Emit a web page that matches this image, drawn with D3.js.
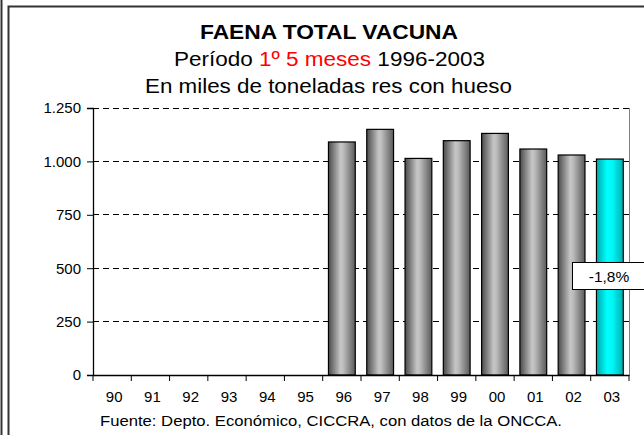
<!DOCTYPE html>
<html><head><meta charset="utf-8">
<script src="https://cdn.jsdelivr.net/npm/d3@7"></script>
<style>body{margin:0;background:#fff}svg{display:block;font-family:"Liberation Sans",Arial,sans-serif}</style>
</head><body>
<script>
const categories = ["90","91","92","93","94","95","96","97","98","99","00","01","02","03"];
const values = [null,null,null,null,null,null,1091,1150,1014,1097,1131,1058,1030,1011];
const yTicks = [0,250,500,750,1000,1250];
const yTickLabels = ["0","250","500","750","1.000","1.250"];
const highlight = "03";
const changeLabel = "-1,8%";

const W=644,H=435;
const svg=d3.select("body").append("svg").attr("width",W).attr("height",H);
const defs=svg.append("defs");
const g1=defs.append("linearGradient").attr("id","gGray").attr("x1","0").attr("x2","1").attr("y1","0").attr("y2","0");
[[0,"#4a4a4a"],[0.45,"#c6c6c6"],[0.55,"#bdbdbd"],[1,"#5a5a5a"]].forEach(s=>g1.append("stop").attr("offset",s[0]).attr("stop-color",s[1]));
const g2=defs.append("linearGradient").attr("id","gCyan").attr("x1","0").attr("x2","1").attr("y1","0").attr("y2","0");
[[0,"#00a8a8"],[0.4,"#00ffff"],[0.6,"#00f6f6"],[1,"#00b0b0"]].forEach(s=>g2.append("stop").attr("offset",s[0]).attr("stop-color",s[1]));

// frames
svg.append("line").attr("x1",1.5).attr("x2",1.5).attr("y1",0).attr("y2",H).attr("stroke","#333").attr("stroke-width",2);
svg.append("path").attr("d",`M8.5,${H}V6.5H${W}`).attr("fill","none").attr("stroke","#333").attr("stroke-width",2);

const L=93,R=629,T=108,B=375;
const x=d3.scaleBand().domain(categories).range([L,R]).paddingInner(0.3).paddingOuter(0.15);
const xt=d3.scaleBand().domain(categories).range([L,R]);
const y=d3.scaleLinear().domain([0,1250]).range([B,T]);

// grid
svg.append("g").selectAll("line").data(yTicks.filter(d=>d>0)).join("line")
 .attr("x1",L).attr("x2",R).attr("y1",d=>y(d)).attr("y2",d=>y(d))
 .attr("stroke","#000").attr("stroke-dasharray","6,4").attr("stroke-width",1).attr("shape-rendering","crispEdges");
// right border
svg.append("line").attr("x1",R).attr("x2",R).attr("y1",T).attr("y2",B).attr("stroke","#808080").attr("shape-rendering","crispEdges");

// bars
svg.append("g").selectAll("rect").data(categories.map((c,i)=>({c,v:values[i]})).filter(d=>d.v!=null)).join("rect")
 .attr("x",d=>x(d.c)).attr("width",x.bandwidth()).attr("y",d=>y(d.v)).attr("height",d=>B-y(d.v))
 .attr("fill",d=>d.c===highlight?"url(#gCyan)":"url(#gGray)").attr("stroke","#000").attr("stroke-width",1.2);

// y axis
const ya=svg.append("g").attr("transform",`translate(${L},0)`).call(d3.axisLeft(y).tickValues(yTicks).tickFormat((d,i)=>yTickLabels[i]).tickSize(6).tickPadding(6));
ya.select(".domain").attr("stroke","#000").attr("stroke-width",1.3);
ya.selectAll("line").attr("stroke","#000");
ya.selectAll("text").attr("font-size",15).attr("font-family","Liberation Sans, Arial, sans-serif").attr("fill","#000");

// x axis
const xa=svg.append("g").attr("transform",`translate(0,${B})`).call(d3.axisBottom(xt).tickSize(0).tickPadding(16));
xa.select(".domain").attr("stroke","#000").attr("stroke-width",1.3);
xa.selectAll("text").attr("font-size",15).attr("font-family","Liberation Sans, Arial, sans-serif").attr("fill","#000").attr("dx",2);
svg.append("g").selectAll("line").data(categories.concat(["_end"])).join("line")
 .attr("x1",(d,i)=>L+i*xt.step()).attr("x2",(d,i)=>L+i*xt.step()).attr("y1",B).attr("y2",B+6).attr("stroke","#000");

// label box
const lb=svg.append("g");
lb.append("rect").attr("x",572.5).attr("y",262.5).attr("width",80).attr("height",27).attr("fill","#fff").attr("stroke","#000");
lb.append("text").attr("x",609).attr("y",282).attr("text-anchor","middle").attr("font-size",15.5).text(changeLabel);

// titles
svg.append("text").attr("x",329).attr("y",39).attr("text-anchor","middle").attr("font-size",20).attr("font-weight","bold")
 .attr("textLength",258).attr("lengthAdjust","spacingAndGlyphs").text("FAENA TOTAL VACUNA");
const t2=svg.append("text").attr("x",329.5).attr("y",66).attr("text-anchor","middle").attr("font-size",20)
 .attr("textLength",311).attr("lengthAdjust","spacingAndGlyphs");
t2.append("tspan").text("Período ");
t2.append("tspan").attr("fill","#ff0000").text("1º 5 meses");
t2.append("tspan").text(" 1996-2003");
svg.append("text").attr("x",328.5).attr("y",93).attr("text-anchor","middle").attr("font-size",20)
 .attr("textLength",367).attr("lengthAdjust","spacingAndGlyphs").text("En miles de toneladas res con hueso");
svg.append("text").attr("x",100).attr("y",426).attr("font-size",14)
 .attr("textLength",462).attr("lengthAdjust","spacingAndGlyphs").text("Fuente: Depto. Económico, CICCRA, con datos de la ONCCA.");
</script>
</body></html>
